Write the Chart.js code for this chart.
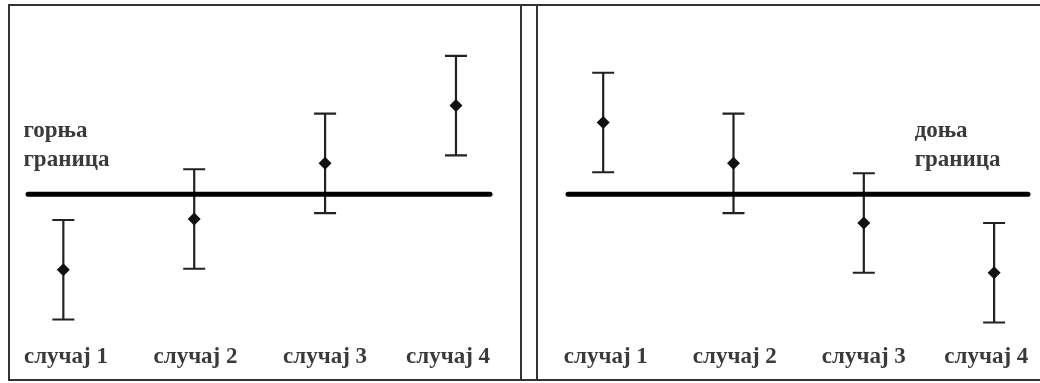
<!DOCTYPE html>
<html>
<head>
<meta charset="utf-8">
<script src="https://cdn.jsdelivr.net/npm/chart.js@4"></script>
<style>
  html, body { margin: 0; padding: 0; background: #fff; width: 1040px; height: 383px; overflow: hidden; }
  .wrap { position: absolute; top: 0; height: 383px; }
  #leftWrap { left: 0; width: 528px; }
  #rightWrap { left: 528px; width: 512px; }
  .frame { position: absolute; left: 8px; top: 4px; width: 1100px; height: 373px;
           border-top: 2px solid #333; border-bottom: 2px solid #333; border-left: 2px solid #333; }
  .vline { position: absolute; top: 4px; height: 377px; width: 2px; background: #333; }
</style>
</head>
<body>
<div class="frame"></div>
<div class="vline" style="left:520px"></div>
<div class="vline" style="left:536px"></div>
<div class="wrap" id="leftWrap"><canvas id="leftChart" width="528" height="383"></canvas></div>
<div class="wrap" id="rightWrap"><canvas id="rightChart" width="512" height="383"></canvas></div>
<script>
// ---- data ----
const categories = ['случај 1', 'случај 2', 'случај 3', 'случај 4'];
const upperMeans = [-1.52, -0.50, 0.62, 1.78];
const upperErrors = [1.0, 1.0, 1.0, 1.0];
const lowerMeans = [1.44, 0.62, -0.58, -1.58];
const lowerErrors = [1.0, 1.0, 1.0, 1.0];
const limitValue = 0;
const limitSpan = [-0.27, 3.26];
const upperLimitText = ['горња', 'граница'];
const lowerLimitText = ['доња', 'граница'];

const FONT = "'Liberation Serif', 'DejaVu Serif', serif";
const FONT_SIZE = 23;
const TEXT_COLOR = '#3a3a3a';
// slight label shift (in category units) as in the original layout
const labelShift = [0.02, 0.01, 0.0, -0.06];

const errorBarPlugin = {
  id: 'errorBars',
  beforeDatasetsDraw(chart) {
    const ctx = chart.ctx;
    const y = chart.scales.y;
    chart.data.datasets.forEach((ds, di) => {
      if (!ds.errors) return;
      const meta = chart.getDatasetMeta(di);
      meta.data.forEach((pt, i) => {
        const v = ds.data[i].y, e = ds.errors[i];
        const top = y.getPixelForValue(v + e);
        const bot = y.getPixelForValue(v - e);
        ctx.save();
        ctx.strokeStyle = '#222';
        ctx.lineWidth = 2.2;
        ctx.beginPath();
        ctx.moveTo(pt.x, top); ctx.lineTo(pt.x, bot);
        ctx.moveTo(pt.x - 11, top); ctx.lineTo(pt.x + 11, top);
        ctx.moveTo(pt.x - 11, bot); ctx.lineTo(pt.x + 11, bot);
        ctx.stroke();
        ctx.restore();
      });
    });
  }
};

const limitTextPlugin = {
  id: 'limitText',
  afterDraw(chart, args, opts) {
    if (!opts.lines) return;
    const ctx = chart.ctx;
    ctx.save();
    ctx.font = 'bold ' + FONT_SIZE + 'px ' + FONT;
    ctx.fillStyle = TEXT_COLOR;
    ctx.textAlign = 'left';
    ctx.textBaseline = 'middle';
    opts.lines.forEach((t, i) => {
      ctx.fillText(t, chart.scales.x.getPixelForValue(opts.x),
                   chart.scales.y.getPixelForValue(opts.y[i]));
    });
    ctx.restore();
  }
};

function makePanel(id, means, errors, text, textX, padLeft, padRight) {
  return new Chart(document.getElementById(id), {
    data: {
      datasets: [
        {
          type: 'line',
          data: means.map((m, i) => ({ x: i, y: m })),
          errors: errors,
          showLine: false,
          pointStyle: 'rectRot',
          pointRadius: 6.5,
          pointBackgroundColor: '#111',
          pointBorderColor: '#111',
          pointBorderWidth: 0,
          order: 0
        },
        {
          type: 'line',
          data: limitSpan.map(x => ({ x: x, y: limitValue })),
          borderColor: '#000',
          borderWidth: 5,
          borderCapStyle: 'round',
          pointRadius: 0,
          clip: false,
          order: 1
        }
      ]
    },
    options: {
      responsive: false,
      animation: false,
      devicePixelRatio: 1,
      layout: { padding: { left: padLeft, right: padRight, top: 22, bottom: 9 } },
      plugins: {
        legend: { display: false },
        tooltip: { enabled: false },
        limitText: { lines: text, x: textX, y: [1.26, 0.68] }
      },
      scales: {
        x: {
          type: 'linear',
          min: limitSpan[0],
          max: limitSpan[1],
          grid: { display: false, drawTicks: false },
          border: { display: false },
          afterBuildTicks(scale) {
            scale.ticks = categories.map((_, i) => ({ value: i + labelShift[i] }));
          },
          ticks: {
            autoSkip: false,
            maxRotation: 0,
            padding: 3,
            color: TEXT_COLOR,
            font: { family: FONT, size: FONT_SIZE, weight: 'bold' },
            callback: (v, i) => categories[i]
          }
        },
        y: { display: false, min: -2.94, max: 3.46 }
      }
    },
    plugins: [errorBarPlugin, limitTextPlugin]
  });
}

makePanel('leftChart', upperMeans, upperErrors, upperLimitText, -0.305, 28, 38);
makePanel('rightChart', lowerMeans, lowerErrors, lowerLimitText, 2.39, 40, 12);
</script>
</body>
</html>
